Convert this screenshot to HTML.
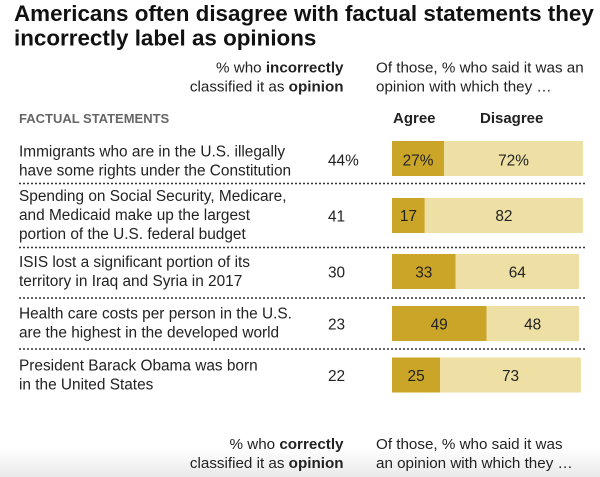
<!DOCTYPE html>
<html>
<head>
<meta charset="utf-8">
<style>
html,body{margin:0;padding:0;background:#fff;}
body{width:600px;height:477px;overflow:hidden;}
svg{display:block;}
text{font-family:"Liberation Sans",Arial,sans-serif;}
</style>
</head>
<body>
<svg width="600" height="477" viewBox="0 0 600 477" xmlns="http://www.w3.org/2000/svg">
  <defs>
    <linearGradient id="fade" x1="0" y1="0" x2="0" y2="1">
      <stop offset="0" stop-color="#ffffff"/>
      <stop offset="1" stop-color="#e9e9e9"/>
    </linearGradient>
  </defs>
  <rect x="0" y="0" width="600" height="477" fill="#fff"/>
  <rect x="0" y="448" width="600" height="29" fill="url(#fade)"/>

  <!-- Title -->
  <text x="14" y="21" font-size="22.4" font-weight="bold" fill="#111">Americans often disagree with factual statements they</text>
  <text x="14" y="45.5" font-size="22.4" font-weight="bold" fill="#111">incorrectly label as opinions</text>

  <!-- Top subheaders -->
  <g font-size="15.2" fill="#222">
    <text x="343.5" y="72.7" text-anchor="end">% who <tspan font-weight="bold">incorrectly</tspan></text>
    <text x="343.5" y="91.7" text-anchor="end">classified it as <tspan font-weight="bold">opinion</tspan></text>
    <text x="376" y="72.7">Of those, % who said it was an</text>
    <text x="376" y="91.7">opinion with which they …</text>
  </g>

  <text x="19" y="123" font-size="13" font-weight="bold" fill="#666">FACTUAL STATEMENTS</text>
  <text x="393" y="123" font-size="15" font-weight="bold" fill="#222">Agree</text>
  <text x="480" y="123" font-size="15" font-weight="bold" fill="#222">Disagree</text>

  <!-- Row statements -->
  <g font-size="15.4" fill="#222">
    <text x="19" y="156.5">Immigrants who are in the U.S. illegally</text>
    <text x="19" y="175.5">have some rights under the Constitution</text>

    <text x="19" y="201">Spending on Social Security, Medicare,</text>
    <text x="19" y="220">and Medicaid make up the largest</text>
    <text x="19" y="239">portion of the U.S. federal budget</text>

    <text x="19" y="267">ISIS lost a significant portion of its</text>
    <text x="19" y="286">territory in Iraq and Syria in 2017</text>

    <text x="19" y="318.5">Health care costs per person in the U.S.</text>
    <text x="19" y="337.5">are the highest in the developed world</text>

    <text x="19" y="370.5">President Barack Obama was born</text>
    <text x="19" y="389.5">in the United States</text>

    <!-- numbers -->
    <text x="328" y="165.5">44%</text>
    <text x="328" y="221.5">41</text>
    <text x="328" y="277.5">30</text>
    <text x="328" y="329.5">23</text>
    <text x="328" y="381">22</text>
  </g>

  <!-- Separators -->
  <g stroke="#333" stroke-width="1.6" stroke-dasharray="2,2">
    <line x1="19" y1="183.5" x2="587" y2="183.5"/>
    <line x1="19" y1="247.5" x2="587" y2="247.5"/>
    <line x1="19" y1="298" x2="587" y2="298"/>
    <line x1="19" y1="349" x2="587" y2="349"/>
  </g>

  <!-- Bars -->
  <g>
    <rect x="392" y="141" width="52.1" height="35" fill="#cba527"/>
    <rect x="444.1" y="141" width="138.8" height="35" fill="#eee0a4"/>

    <rect x="392" y="198" width="32.8" height="35" fill="#cba527"/>
    <rect x="424.8" y="198" width="158.1" height="35" fill="#eee0a4"/>

    <rect x="392" y="254" width="63.6" height="35" fill="#cba527"/>
    <rect x="455.6" y="254" width="123.4" height="35" fill="#eee0a4"/>

    <rect x="392" y="306" width="94.5" height="35" fill="#cba527"/>
    <rect x="486.5" y="306" width="92.5" height="35" fill="#eee0a4"/>

    <rect x="392" y="357.5" width="48.2" height="35" fill="#cba527"/>
    <rect x="440.2" y="357.5" width="140.7" height="35" fill="#eee0a4"/>
  </g>

  <g font-size="15.4" fill="#222" text-anchor="middle">
    <text x="418" y="165.5">27%</text>
    <text x="513.5" y="165.5">72%</text>
    <text x="408.4" y="221">17</text>
    <text x="503.9" y="221">82</text>
    <text x="423.8" y="277.5">33</text>
    <text x="517.3" y="277.5">64</text>
    <text x="439.2" y="329.5">49</text>
    <text x="532.7" y="329.5">48</text>
    <text x="416.1" y="381">25</text>
    <text x="510.5" y="381">73</text>
  </g>

  <!-- Bottom subheaders -->
  <g font-size="15.2" fill="#222">
    <text x="343.5" y="449" text-anchor="end">% who <tspan font-weight="bold">correctly</tspan></text>
    <text x="343.5" y="468" text-anchor="end">classified it as <tspan font-weight="bold">opinion</tspan></text>
    <text x="376" y="449">Of those, % who said it was</text>
    <text x="376" y="468">an opinion with which they …</text>
  </g>
</svg>
</body>
</html>
